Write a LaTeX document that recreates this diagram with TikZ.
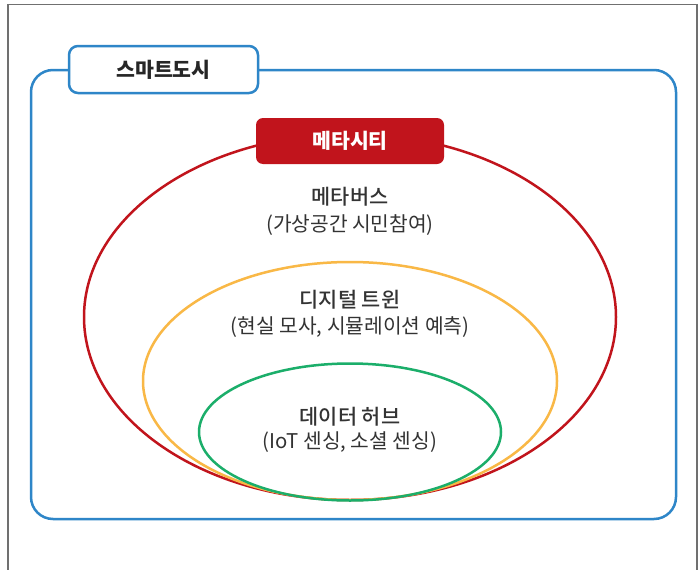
\documentclass[tikz,border=0pt]{standalone}
\usepackage{fontspec}
\setmainfont{Noto Sans CJK KR}
\newfontfamily\medfont{Noto Sans CJK KR Medium}
\usetikzlibrary{shapes.geometric}
\definecolor{cblue}{HTML}{2E86C8}
\definecolor{cred}{HTML}{C1141C}
\definecolor{cyel}{HTML}{F9B846}
\definecolor{cgreen}{HTML}{1BAE6A}
\definecolor{cframe}{HTML}{707070}
\definecolor{ctext}{HTML}{333333}
\tikzset{
  ring/.style={draw, ellipse, line width=2.5pt, inner sep=0pt},
  head/.style={font=\medfont\fontsize{20.8}{22}\selectfont, text=ctext, inner sep=0pt},
  sub/.style={font=\fontsize{20.3}{22}\selectfont, text=ctext, inner sep=0pt},
}
\begin{document}
\begin{tikzpicture}[x=1pt,y=-1pt]
\useasboundingbox (0,0) rectangle (699,570);
\fill[white] (0,0) rectangle (699,570);
% outer frame
\coordinate (f1) at (8,571);
\coordinate (f2) at (8,4.5);
\coordinate (f3) at (697,4.5);
\coordinate (f4) at (697,571);
\draw[cframe, line width=1.3pt] (f1) -- (f2) -- (f3) -- (f4);
% city box
\draw[cblue, line width=2.5pt, rounded corners=22pt] (31,70) rectangle (676,519);
% ellipses
\node[ring, cred, minimum width=532pt, minimum height=366pt] (meta) at (350,317) {};
\node[ring, cyel, minimum width=414pt, minimum height=238pt] (twin) at (350,381) {};
\node[ring, cgreen, minimum width=302pt, minimum height=137pt] (hub) at (350,432) {};
% title boxes
\node[draw=cblue, fill=white, line width=2.5pt, rounded corners=9pt, minimum width=189pt, minimum height=47pt, inner sep=0pt, text=black!85, font=\bfseries\fontsize{20.5}{22}\selectfont] (city) at (163.5,69.5) {스마트도시};
\node[fill=cred, rounded corners=7pt, minimum width=188pt, minimum height=46pt, inner sep=0pt, text=white, font=\bfseries\fontsize{20.5}{22}\selectfont] (mc) at (350,141) {메타시티};
% labels
\node[head] (t1) at (350,197) {메타버스};
\node[sub] (s1) at (350,225) {(가상공간 시민참여)};
\node[head] (t2) at (350,300) {디지털 트윈};
\node[sub] (s2) at (350,327) {(현실 모사, 시뮬레이션 예측)};
\node[head] (t3) at (350,417) {데이터 허브};
\node[sub] (s3) at (350,442) {(IoT 센싱, 소셜 센싱)};
\end{tikzpicture}
\end{document}
